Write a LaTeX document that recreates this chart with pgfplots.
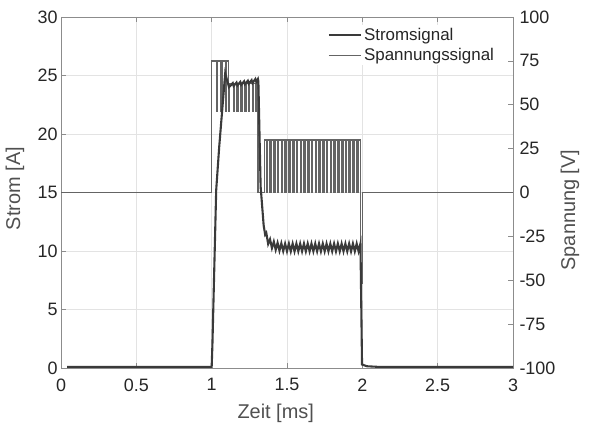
\documentclass[border=0pt]{standalone}
\usepackage{fontspec}
\setmainfont{Liberation Sans}
\usepackage{pgfplots}
\pgfplotsset{compat=1.18}
\definecolor{curr}{HTML}{3a3a3a}
\definecolor{volt}{HTML}{646464}
\definecolor{axgray}{HTML}{8c8c8c}
\definecolor{gridgray}{HTML}{e3e3e3}
\definecolor{txt}{HTML}{262626}
\definecolor{lbl}{HTML}{505050}
\begin{document}
\begin{tikzpicture}
\useasboundingbox (0,0) rectangle (590bp,425bp);
\pgfplotsset{
 base/.style={scale only axis, width=452bp, height=351bp, at={(61bp,57bp)}, anchor=south west,
   xmin=0, xmax=3, /pgf/number format/assume math mode=true,
   tick label style={font=\fontsize{18}{18}\selectfont, text=txt},
   label style={font=\fontsize{20}{20}\selectfont, text=lbl},
   axis line style={draw=axgray, line width=0.6bp},
   major tick length=5bp, tick style={draw=axgray, line width=0.6bp}, tick align=inside},
}
% base axis: grid, left ticks, x axis
\begin{axis}[base, ymin=0, ymax=30, ytick={0,5,10,15,20,25,30},
  xtick={0,0.5,1,1.5,2,2.5,3}, xticklabels={0,0.5,1,1.5,2,2.5,3},
  xticklabel style={yshift=-7bp},
  grid=major, grid style={draw=gridgray, line width=0.6bp},
  ytick pos=left, xtick pos=both,
  xlabel={Zeit [ms]}, ylabel={Strom [A]},
  xlabel style={at={(axis description cs:0.475,-0.128)}, anchor=center},
  ylabel style={at={(axis description cs:-0.102,0.511)}, anchor=center}]
\addplot[draw=none] coordinates {(0,0)};
\end{axis}
% voltage axis
\begin{axis}[base, ymin=-100, ymax=100, ytick={-100,-75,-50,-25,0,25,50,75,100},
  axis y line*=right, axis x line=none, ylabel={Spannung [V]},
  yticklabel style={xshift=3bp},
  ylabel style={at={(axis description cs:1.126,0.45)}, anchor=center}]
\addplot[volt, line width=1.35bp] coordinates {
(0,0)(1.0,0)(1.0,75)
(1.03,75)(1.03,46)(1.038,46)(1.038,75)
(1.06,75)(1.06,46)(1.068,46)(1.068,75)
(1.09,75)(1.09,46)(1.098,46)(1.098,75)
(1.112,75)(1.112,46)(1.12,46)(1.12,62)
(1.144,62)(1.144,46)(1.152,46)(1.152,62)
(1.169,62)(1.169,46)(1.177,46)(1.177,62)
(1.194,62)(1.194,46)(1.202,46)(1.202,62)
(1.219,62)(1.219,46)(1.227,46)(1.227,62)
(1.244,62)(1.244,46)(1.252,46)(1.252,62)
(1.269,62)(1.269,46)(1.277,46)(1.277,62)
(1.294,62)(1.294,46)(1.302,46)(1.302,62)
(1.307,62)(1.307,0)(1.35,0)(1.35,30)
(1.3625,30)(1.3625,0)(1.3705,0)(1.3705,30)
(1.3875,30)(1.3875,0)(1.3955,0)(1.3955,30)
(1.4125,30)(1.4125,0)(1.4205,0)(1.4205,30)
(1.4375,30)(1.4375,0)(1.4455,0)(1.4455,30)
(1.4625,30)(1.4625,0)(1.4705,0)(1.4705,30)
(1.4875,30)(1.4875,0)(1.4955,0)(1.4955,30)
(1.5125,30)(1.5125,0)(1.5205,0)(1.5205,30)
(1.5375,30)(1.5375,0)(1.5455,0)(1.5455,30)
(1.5625,30)(1.5625,0)(1.5705,0)(1.5705,30)
(1.5875,30)(1.5875,0)(1.5955,0)(1.5955,30)
(1.6125,30)(1.6125,0)(1.6205,0)(1.6205,30)
(1.6375,30)(1.6375,0)(1.6455,0)(1.6455,30)
(1.6625,30)(1.6625,0)(1.6705,0)(1.6705,30)
(1.6875,30)(1.6875,0)(1.6955,0)(1.6955,30)
(1.7125,30)(1.7125,0)(1.7205,0)(1.7205,30)
(1.7375,30)(1.7375,0)(1.7455,0)(1.7455,30)
(1.7625,30)(1.7625,0)(1.7705,0)(1.7705,30)
(1.7875,30)(1.7875,0)(1.7955,0)(1.7955,30)
(1.8125,30)(1.8125,0)(1.8205,0)(1.8205,30)
(1.8375,30)(1.8375,0)(1.8455,0)(1.8455,30)
(1.8625,30)(1.8625,0)(1.8705,0)(1.8705,30)
(1.8875,30)(1.8875,0)(1.8955,0)(1.8955,30)
(1.9125,30)(1.9125,0)(1.9205,0)(1.9205,30)
(1.9375,30)(1.9375,0)(1.9455,0)(1.9455,30)
(1.9625,30)(1.9625,0)(1.9705,0)(1.9705,30)
(1.988,30)(1.988,-52)(1.999,-52)(1.999,0)(3,0)
};
\end{axis}
% current axis (on top) with legend
\begin{axis}[base, ymin=0, ymax=30, hide axis,
  legend style={draw=none, fill=white, font=\fontsize{17}{17}\selectfont, text=txt,
    at={(rel axis cs:0.965,0.978)}, anchor=north east, row sep=3bp, inner sep=1bp},
  legend cell align=left,
  legend image code/.code={\draw[#1] (0bp,0bp) -- (32bp,0bp);}]
\addplot[curr, line width=2.1bp] coordinates {
(0.04,0.1)(1.0,0.1)(1.005,2)(1.03,15.2)(1.05,18.9)(1.09,25.2)(1.115,24.0)
(1.14,24.35)(1.146,24.1)(1.165,24.4)(1.171,24.15)(1.19,24.45)(1.196,24.2)
(1.215,24.5)(1.221,24.25)(1.24,24.55)(1.246,24.3)(1.265,24.6)(1.271,24.35)
(1.29,24.7)(1.296,24.45)(1.307,24.7)
(1.31,24.5)(1.325,15.5)(1.345,12.2)(1.355,11.4)
(1.3625,11.55)(1.375,10.6)(1.3875,11.0)(1.4,10.25)(1.4125,10.8)(1.425,10.1)
(1.4375,10.7)(1.45,10.02)(1.4625,10.66)(1.475,9.99)
(1.4875,10.63)(1.5,9.97)(1.5125,10.63)(1.525,9.97)(1.5375,10.63)(1.55,9.97)
(1.5625,10.63)(1.575,9.97)(1.5875,10.63)(1.6,9.97)(1.6125,10.63)(1.625,9.97)
(1.6375,10.63)(1.65,9.97)(1.6625,10.63)(1.675,9.97)(1.6875,10.63)(1.7,9.97)
(1.7125,10.63)(1.725,9.97)(1.7375,10.63)(1.75,9.97)(1.7625,10.63)(1.775,9.97)
(1.7875,10.63)(1.8,9.97)(1.8125,10.63)(1.825,9.97)(1.8375,10.63)(1.85,9.97)
(1.8625,10.63)(1.875,9.97)(1.8875,10.63)(1.9,9.97)(1.9125,10.63)(1.925,9.97)
(1.9375,10.63)(1.95,9.97)(1.9625,10.63)(1.975,9.97)(1.9875,10.63)
(1.998,0.3)(2.03,0.15)(2.1,0.1)(3.0,0.1)
};
\addlegendentry{Stromsignal}
\addlegendimage{volt, line width=1.35bp}
\addlegendentry{Spannungssignal}
\end{axis}
\end{tikzpicture}
\end{document}
